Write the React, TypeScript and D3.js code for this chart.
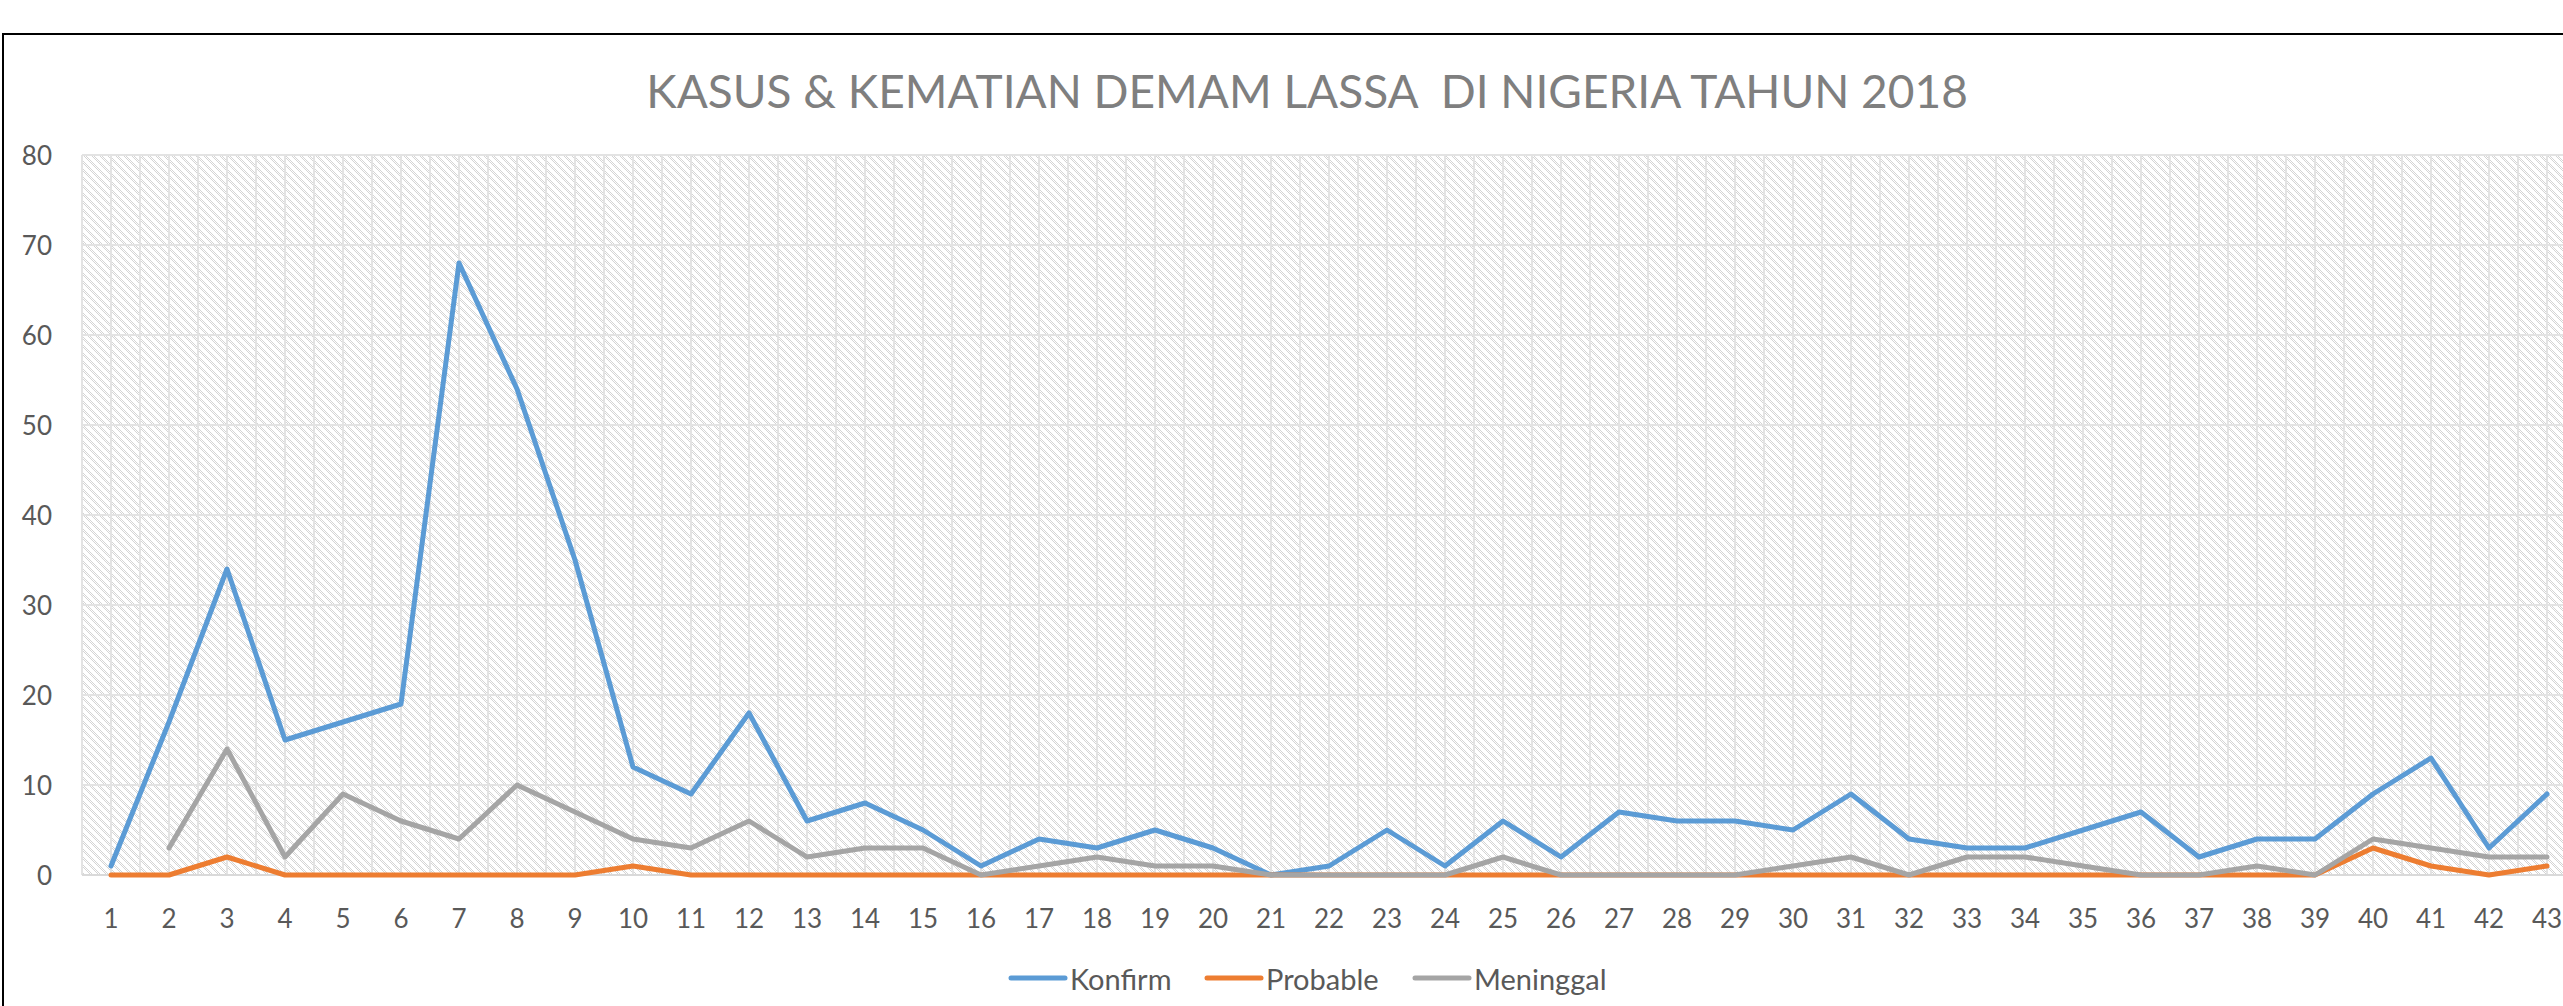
import React from 'react';
import * as d3 from 'd3';

// weeks 1..43
const weeks = d3.range(1, 44);

const konfirm = [1, 17, 34, 15, 17, 19, 68, 54, 35, 12, 9, 18, 6, 8, 5, 1, 4, 3, 5, 3, 0, 1, 5, 1, 6, 2, 7, 6, 6, 5, 9, 4, 3, 3, 5, 7, 2, 4, 4, 9, 13, 3, 9];
const probable = [0, 0, 2, 0, 0, 0, 0, 0, 0, 1, 0, 0, 0, 0, 0, 0, 0, 0, 0, 0, 0, 0, 0, 0, 0, 0, 0, 0, 0, 0, 0, 0, 0, 0, 0, 0, 0, 0, 0, 3, 1, 0, 1];
const meninggal = [null, 3, 14, 2, 9, 6, 4, 10, 7, 4, 3, 6, 2, 3, 3, 0, 1, 2, 1, 1, 0, 0, 0, 0, 2, 0, 0, 0, 0, 1, 2, 0, 2, 2, 1, 0, 0, 1, 0, 4, 3, 2, 2];

const yTicks = [0, 10, 20, 30, 40, 50, 60, 70, 80];

const series = [
  { name: 'Konfirm', values: konfirm, color: '#5B9BD5' },
  { name: 'Probable', values: probable, color: '#ED7D31' },
  { name: 'Meninggal', values: meninggal, color: '#A5A5A5' },
];

const W = 2563;
const H = 1006;
const FONT = 'Lato, "Open Sans", sans-serif';

export default function App() {
  const plotLeft = 82;
  const plotTop = 155;
  const plotBottom = 875;
  const stepW = 58;
  const plotRight = plotLeft + weeks.length * stepW;

  const x = d3.scalePoint<number>()
    .domain(weeks)
    .range([plotLeft, plotRight])
    .padding(0.5);
  const y = d3.scaleLinear().domain([0, 80]).range([plotBottom, plotTop]);
  const step = x.step();

  const line = d3.line<number | null>()
    .defined(d => d != null)
    .x((d, i) => x(weeks[i]) as number)
    .y(d => y(d as number));

  // gridlines at category centres and at category boundaries
  const vLines: number[] = [];
  weeks.forEach(w => {
    vLines.push((x(w) as number) - step / 2);
    vLines.push(x(w) as number);
  });

  // hatch pixels for the plot area fill
  const hatch: [number, number][] = [];
  for (let i = 0; i < 8; i++) {
    hatch.push([i, i]);
    hatch.push([(i + 2) % 8, i]);
  }

  const legendItems = [
    { lx: 1011, tx: 1070 },
    { lx: 1207, tx: 1266 },
    { lx: 1415, tx: 1474 },
  ];

  return (
    <svg width={W} height={H} style={{ position: 'absolute', left: 0, top: 0, display: 'block' }}
      fontFamily={FONT}>
      <defs>
        <pattern id="hatch" width={8} height={8} patternUnits="userSpaceOnUse">
          <rect width={8} height={8} fill="#ffffff" />
          {hatch.map(([hx, hy], i) => (
            <rect key={i} x={hx} y={hy} width={1} height={1} fill="#d4d4d4" />
          ))}
        </pattern>
      </defs>
      <rect x={0} y={0} width={W} height={H} fill="#ffffff" />
      <rect x={3} y={34} width={W + 20} height={H + 20} fill="none" stroke="#000" strokeWidth={2} />

      <text x={1307} y={90} textAnchor="middle" dominantBaseline="central"
        fontSize={46} fill="#7f7f7f">KASUS &amp; KEMATIAN DEMAM LASSA{'\u00a0'} DI NIGERIA TAHUN 2018</text>

      <rect x={plotLeft} y={plotTop} width={plotRight - plotLeft} height={plotBottom - plotTop} fill="url(#hatch)" />

      {vLines.map((vx, i) => (
        <line key={'v' + i} x1={vx} x2={vx} y1={plotTop} y2={plotBottom} stroke="#e3e3e3" strokeWidth={2} />
      ))}
      {yTicks.map(t => (
        <line key={'h' + t} x1={plotLeft} x2={plotRight} y1={y(t)} y2={y(t)} stroke="#e3e3e3" strokeWidth={2} />
      ))}
      <line x1={plotLeft} x2={plotRight} y1={y(0)} y2={y(0)} stroke="#d9d9d9" strokeWidth={2} />

      {yTicks.map(t => (
        <text key={'yl' + t} x={52} y={y(t)} textAnchor="end" dominantBaseline="central"
          fontSize={26} fill="#595959">{t}</text>
      ))}
      {weeks.map(w => (
        <text key={'xl' + w} x={x(w)} y={918} textAnchor="middle" dominantBaseline="central"
          fontSize={26} fill="#595959">{w}</text>
      ))}

      {series.map(s => (
        <path key={s.name} d={line(s.values) || ''} fill="none" stroke={s.color}
          strokeWidth={5} strokeLinejoin="round" strokeLinecap="round" />
      ))}

      {series.map((s, i) => (
        <g key={'lg' + s.name}>
          <line x1={legendItems[i].lx} x2={legendItems[i].lx + 54} y1={978} y2={978}
            stroke={s.color} strokeWidth={5} strokeLinecap="round" />
          <text x={legendItems[i].tx} y={978} dominantBaseline="central" fontSize={29} fill="#595959">{s.name}</text>
        </g>
      ))}
    </svg>
  );
}
